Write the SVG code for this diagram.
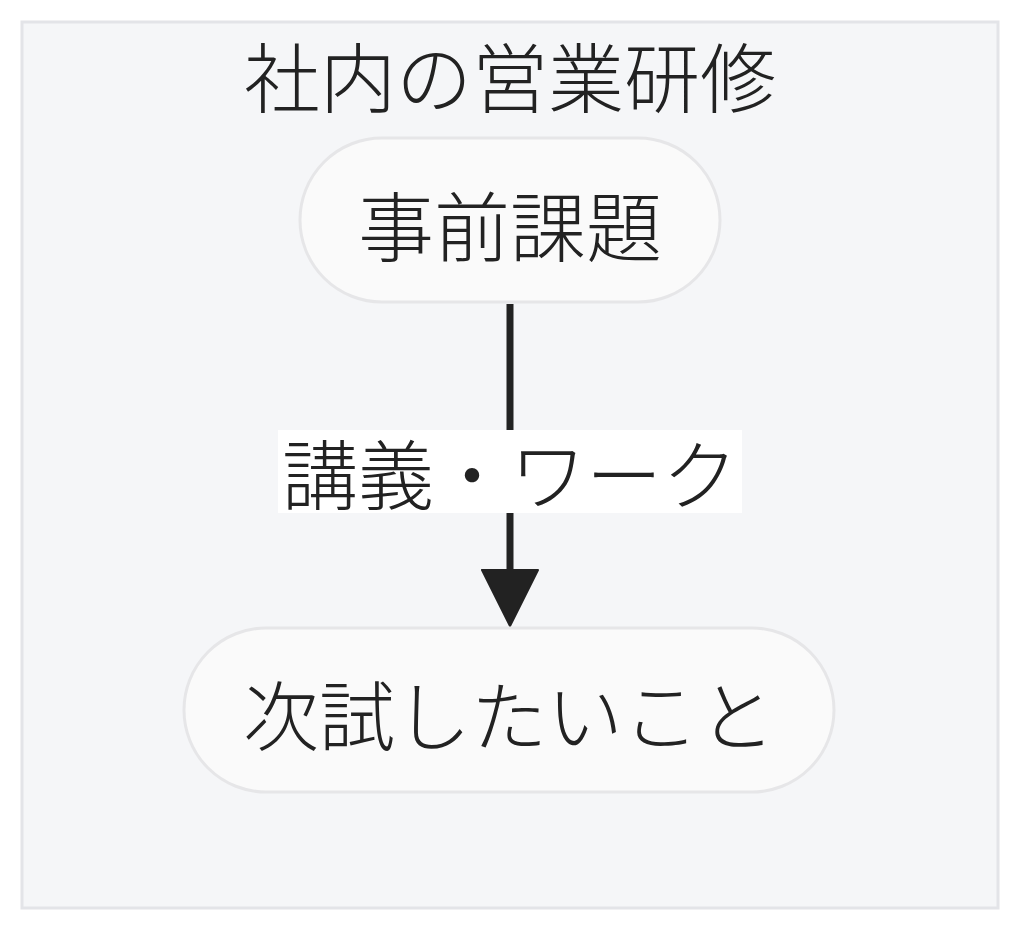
<svg xmlns="http://www.w3.org/2000/svg" width="1024" height="937" viewBox="0 0 1024 937">
<style>
text{font-family:"Noto Sans CJK JP","Noto Sans CJK SC",sans-serif;fill:#222;font-size:76px;font-weight:300;text-anchor:middle;dominant-baseline:central}
.node{fill:#fafafa;stroke:#e6e6e8;stroke-width:3}
.edge{stroke:#222;stroke-width:7;fill:none}
.arrowhead{fill:#222;stroke:#222;stroke-width:2;stroke-linejoin:round}
</style>
<rect x="22" y="22" width="976" height="886" fill="#f5f6f8" stroke="#e3e4e8" stroke-width="3"/>
<text x="510" y="74">社内の営業研修</text>
<g id="connectors">
<line class="edge" x1="510" y1="304" x2="510" y2="575"/>
<polygon class="arrowhead" points="482,570 538,570 510,626"/>
<rect x="278" y="430" width="464" height="83" fill="#ffffff"/>
<text x="510" y="471">講義・ワーク</text>
</g>
<g id="node-jizen">
<rect class="node" x="300" y="138" width="420" height="164" rx="82"/>
<text x="510" y="223">事前課題</text>
</g>
<g id="node-tsugi">
<rect class="node" x="184" y="628" width="650" height="164" rx="82"/>
<text x="509" y="712">次試したいこと</text>
</g>
</svg>
